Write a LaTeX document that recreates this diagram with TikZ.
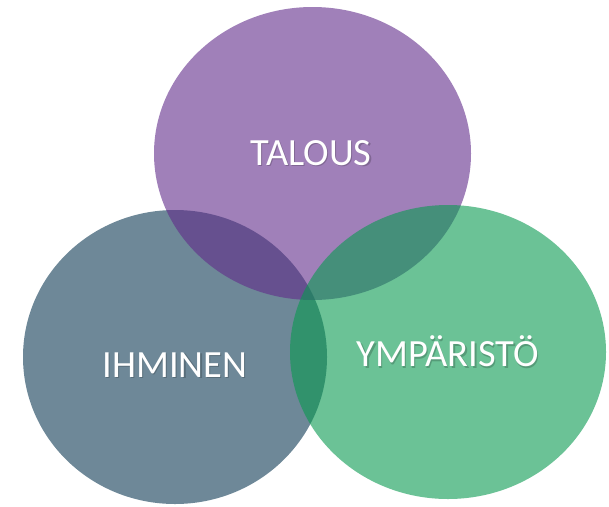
\documentclass[tikz,border=0pt]{standalone}
\usepackage{fontspec}
\setmainfont{Carlito}
\usetikzlibrary{shapes.geometric}
\definecolor{cslate}{RGB}{13,57,83}
\definecolor{cpurple}{RGB}{97,43,138}
\definecolor{cgreen}{RGB}{8,153,80}
\begin{document}
\begin{tikzpicture}[x=1pt,y=-1pt,
  blob/.style={ellipse, draw=none, fill=#1, fill opacity=0.6, inner sep=0pt},
  lbl/.style={anchor=base, inner sep=0pt, text=white, font=\fontsize{38.5}{40}\selectfont},
  lblshadow/.style={anchor=base, inner sep=0pt, text=black, text opacity=0.2, font=\fontsize{38.5}{40}\selectfont}]
\useasboundingbox (0,0) rectangle (609,506);
\node[blob=cslate, minimum width=304pt, minimum height=294pt] (ihminen) at (175,357) {};
\node[blob=cpurple, minimum width=317pt, minimum height=293pt] (talous) at (312.5,153.5) {};
\node[blob=cgreen, minimum width=316pt, minimum height=294pt] (ymparisto) at (448,352) {};
\node[lblshadow] (talouss) at (312.2,166.5) {TALOUS};
\node[lbl] (talousl) at (311,165) {TALOUS};
\node[lblshadow] (ihmisens) at (176.2,378.5) {IHMINEN};
\node[lbl] (ihminenl) at (175,377) {IHMINEN};
\node[lblshadow] (ymparistos) at (449.2,368) {YMPÄRISTÖ};
\node[lbl] (ymparistol) at (448,366.5) {YMPÄRISTÖ};
\end{tikzpicture}
\end{document}
